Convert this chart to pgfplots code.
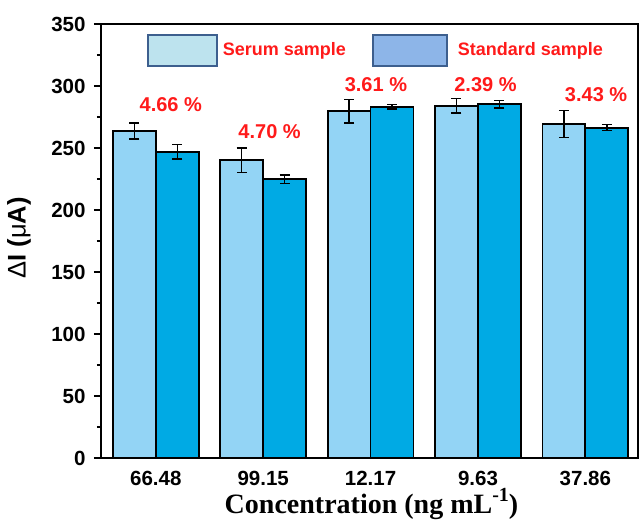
\documentclass[border=0pt]{standalone}
\usepackage{fontspec}
\setmainfont{Liberation Sans}
\newfontfamily\timesfont{Liberation Serif}
\usepackage{pgfplots}
\pgfplotsset{compat=1.18}
\definecolor{serum}{HTML}{93D4F5}
\definecolor{standard}{HTML}{00AAE4}
\definecolor{legA}{HTML}{BDE3EE}
\definecolor{legB}{HTML}{8DB5E8}
\definecolor{legEdge}{HTML}{3D5F8E}
\definecolor{pct}{HTML}{FF1A1A}
\begin{document}
\begin{tikzpicture}
\begin{axis}[
  name=ax,
  width=537pt, height=434pt, scale only axis,
  ybar=0pt, bar width=0.4,
  xmin=-0.51, xmax=4.49,
  ymin=0, ymax=350,
  xtick={0,1,2,3,4},
  xticklabels={66.48,99.15,12.17,9.63,37.86},
  major x tick style={draw=none},
  ytick={0,50,...,350},
  minor y tick num=1,
  ytick pos=left,
  tick align=outside,
  major tick length=7pt, minor tick length=4pt,
  tick style={black, line width=1.2pt},
  axis line style={line width=1.6pt},
  /pgf/number format/assume math mode=true,
  ticklabel style={font=\fontsize{20.5}{23}\selectfont\bfseries},
  xticklabel style={yshift=-3pt},
  yticklabel style={xshift=-5pt},
  xlabel={\timesfont\bfseries Concentration (ng mL\raisebox{0.42em}{\fontsize{20}{21}\selectfont -1})},
  xlabel style={font=\fontsize{28}{31}\selectfont, at={(axis description cs:0.5,0)}, anchor=center, yshift=-46pt, xshift=2pt},
  ylabel={{\mdseries Δ}I ({\mdseries μ}A)},
  ylabel style={font=\fontsize{25.5}{30}\selectfont\bfseries, at={(axis description cs:0,0.507)}, anchor=center, yshift=82pt},
  clip=false,
  error bars/y dir=both, error bars/y explicit,
  error bars/error bar style={line width=1.4pt, black},
  error bars/error mark options={rotate=90, mark size=5pt, line width=1.4pt, black},
]
\addplot[fill=serum, draw=black, line width=1.8pt] coordinates {
  (0,263.7) +- (0,6.3)
  (1,240.0) +- (0,10)
  (2,279.8) +- (0,9.5)
  (3,284.1) +- (0,6)
  (4,269.4) +- (0,10.7)
};
\addplot[fill=standard, draw=black, line width=1.8pt] coordinates {
  (0,247.0) +- (0,6)
  (1,224.7) +- (0,3.5)
  (2,283.3) +- (0,2)
  (3,285.2) +- (0,3)
  (4,266.4) +- (0,2.5)
};
% percent labels
\begin{scope}[every node/.style={text=pct, font=\fontsize{20}{24}\selectfont\bfseries}]
\node at (axis cs:0.14,285) {4.66 \%};
\node at (axis cs:1.06,263) {4.70 \%};
\node at (axis cs:2.05,301) {3.61 \%};
\node at (axis cs:3.07,301) {2.39 \%};
\node at (axis cs:4.10,292.7) {3.43 \%};
\end{scope}
% legend
\draw[fill=legA, draw=legEdge, line width=2pt] (axis cs:-0.074,316) rectangle (axis cs:0.567,341);
\draw[fill=legB, draw=legEdge, line width=2pt] (axis cs:2.019,316) rectangle (axis cs:2.716,341);
\node[anchor=west, inner sep=0pt, text=pct, font=\fontsize{18}{22}\selectfont\bfseries] at (axis cs:0.623,328.5) {Serum sample};
\node[anchor=west, inner sep=0pt, text=pct, font=\fontsize{18}{22}\selectfont\bfseries] at (axis cs:2.81,328.5) {Standard sample};
\end{axis}
\pgfresetboundingbox
\path ([shift={(-101pt,-62pt)}]ax.south west) rectangle ([shift={(1pt,24pt)}]ax.north east);
\end{tikzpicture}
\end{document}
